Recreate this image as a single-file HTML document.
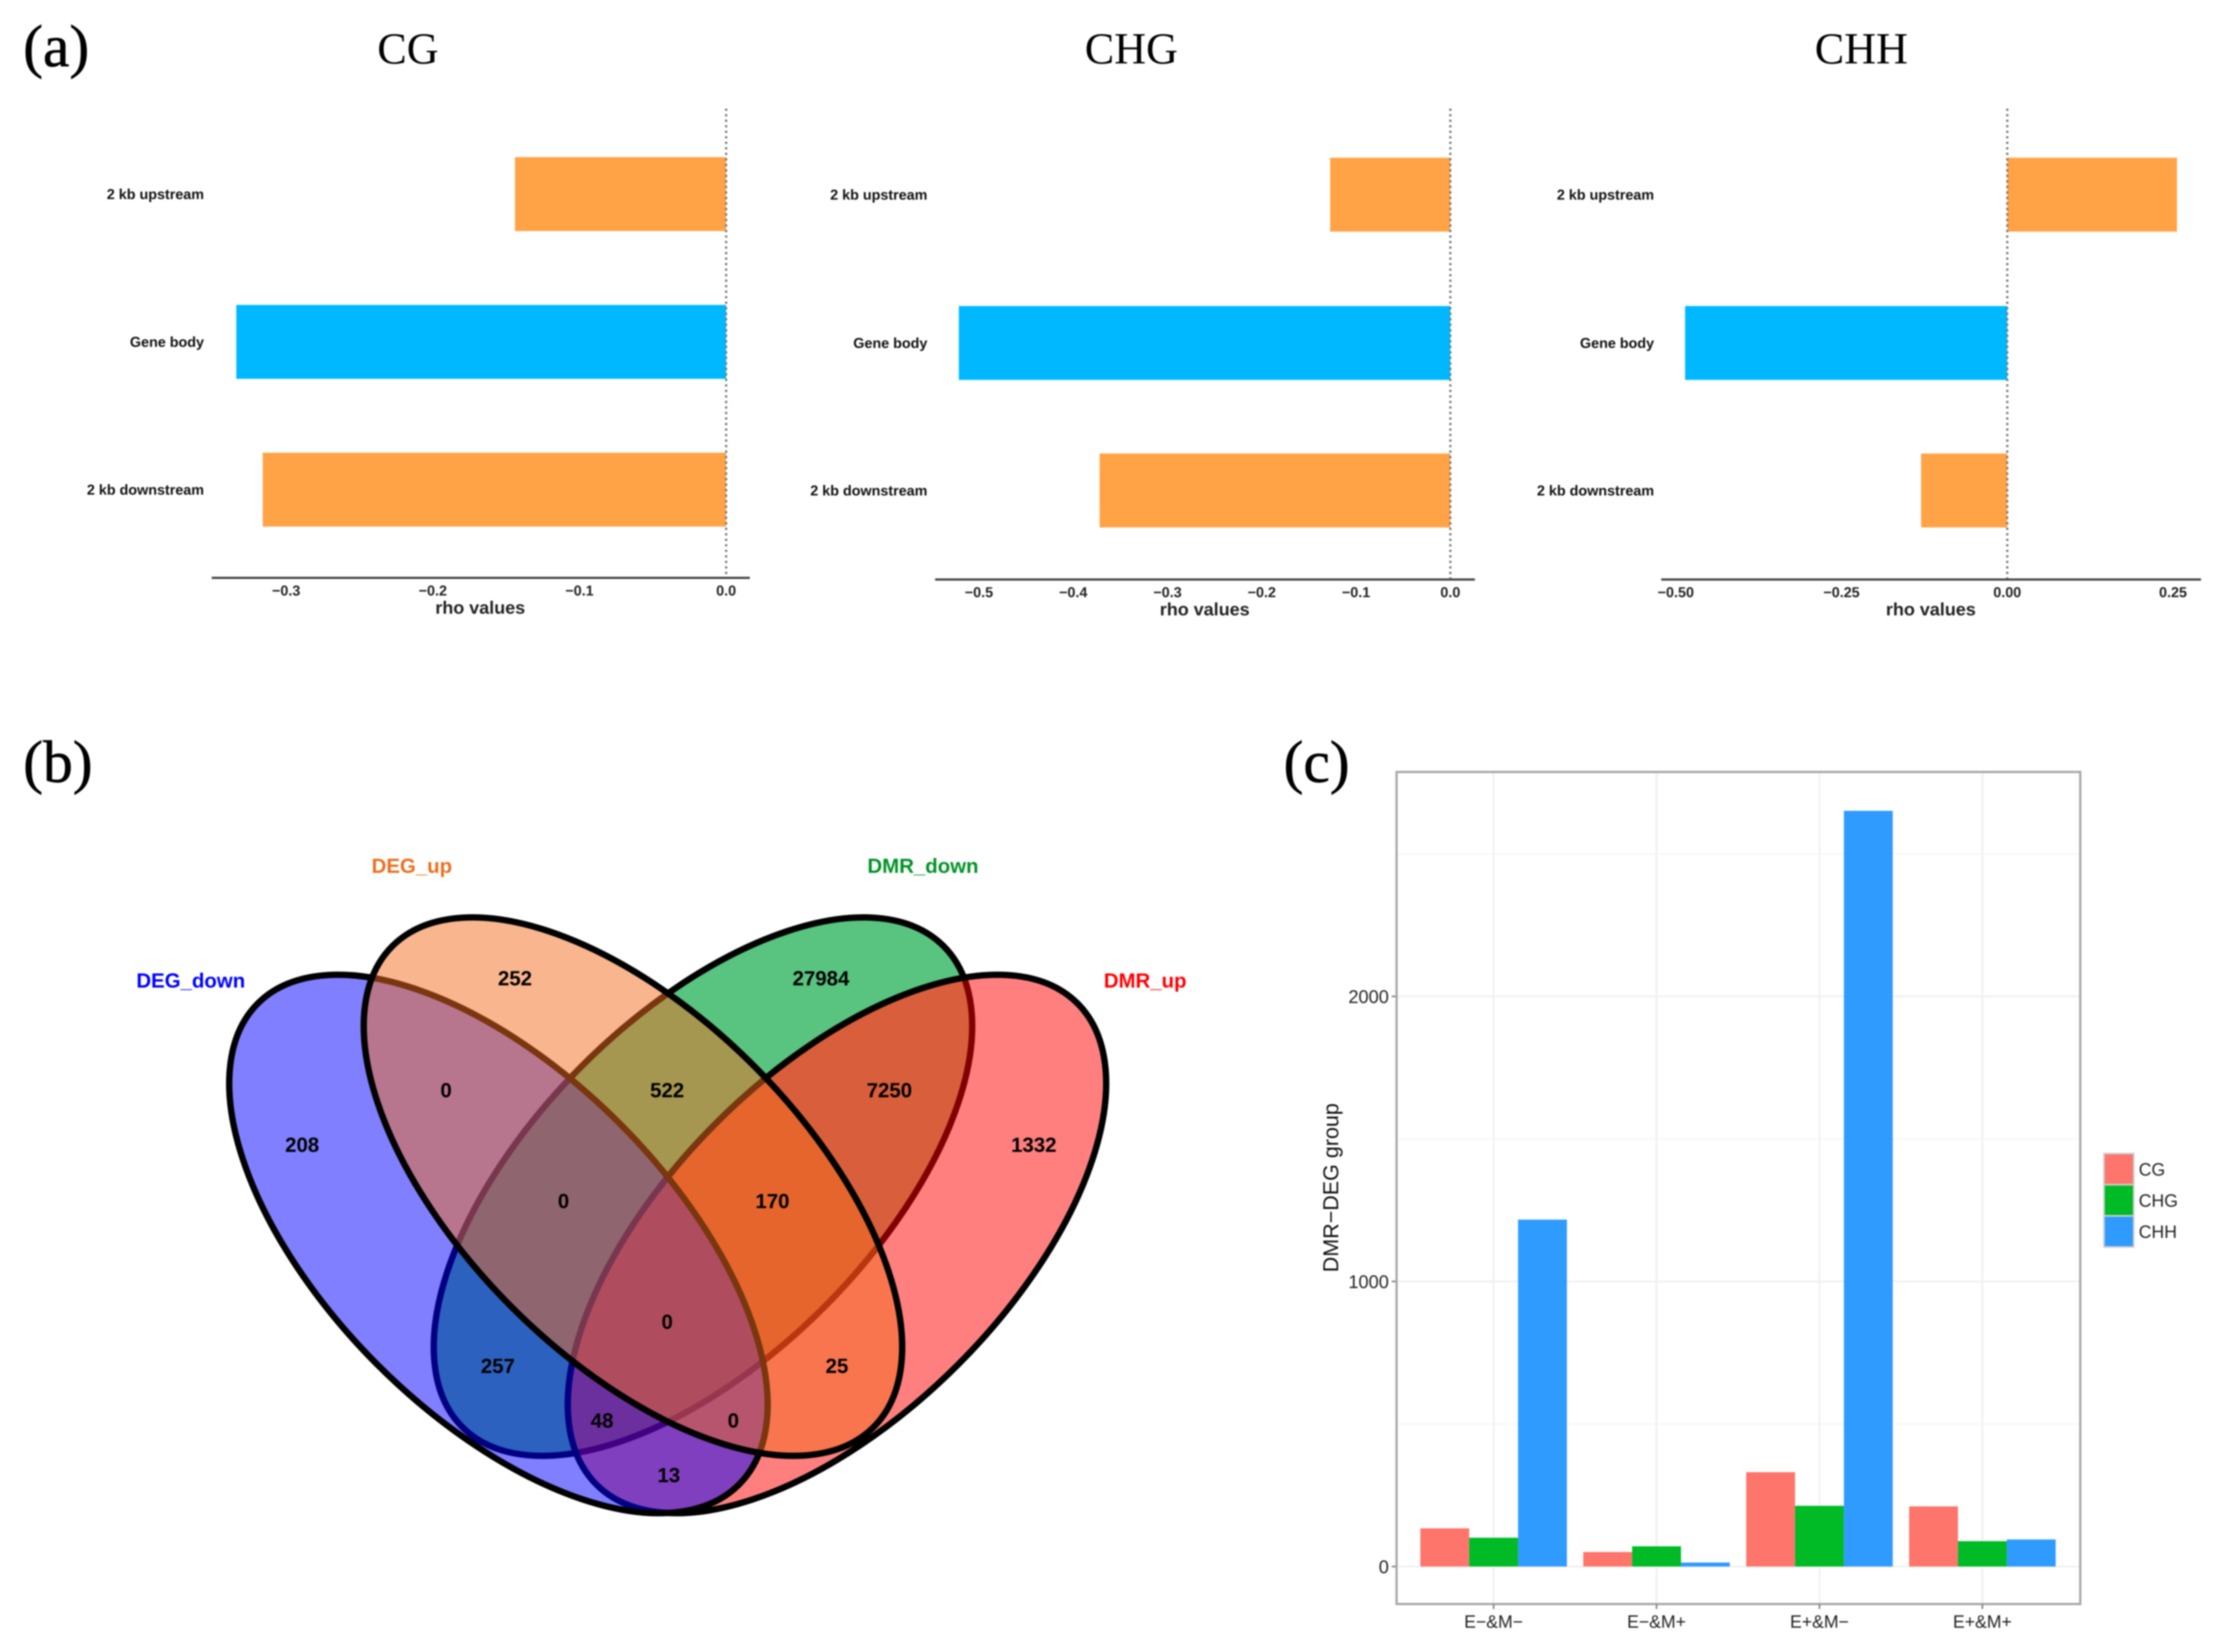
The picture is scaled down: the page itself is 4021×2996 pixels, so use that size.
<!DOCTYPE html>
<html lang="en">
<head>
<meta charset="utf-8">
<title>Methylation correlation, Venn diagram and DMR-DEG group chart</title>
<style>
  html, body { margin: 0; padding: 0; background: #fff; width: 4021px; height: 2996px; overflow: hidden; }
  svg { display: block; filter: blur(1.3px); }
  .serif { font-family: "Liberation Serif", serif; fill: #000; }
  .sans { font-family: "Liberation Sans", sans-serif; }
  .bold { font-weight: bold; }
</style>
</head>
<body>
<svg id="figure" xmlns="http://www.w3.org/2000/svg" width="4021" height="2996" viewBox="0 0 4021 2996">
  <defs>
    <clipPath id="green-inner-clip">
      <ellipse cx="1275" cy="2152" rx="611" ry="304" transform="rotate(-45 1275 2152)"/>
    </clipPath>
  </defs>
  <rect x="0" y="0" width="4021" height="2996" fill="#fff"/>

  <text class="serif" x="42" y="120" font-size="108" stroke="#000" stroke-width="1">(a)</text>
  <text class="serif" x="42" y="1418" font-size="108" stroke="#000" stroke-width="1">(b)</text>
  <text class="serif" x="2328" y="1418" font-size="108" stroke="#000" stroke-width="1">(c)</text>

  <text class="serif" x="740" y="115" font-size="80" text-anchor="middle">CG</text>
  <text class="serif" x="2052" y="115" font-size="80" text-anchor="middle">CHG</text>
  <text class="serif" x="3376" y="115" font-size="80" text-anchor="middle">CHH</text>

  <g id="panel-a"></g>

  <g id="venn">
    <!-- draw order green, red, blue, orange reproduces the tinted outlines -->
    <ellipse cx="1275" cy="2152" rx="617" ry="310" transform="rotate(-45 1275 2152)" fill="#00A33C" fill-opacity="0.65" stroke="none"/>
    <ellipse cx="1275" cy="2152" rx="617" ry="310" transform="rotate(-45 1275 2152)" fill="none" stroke="#000" stroke-width="11.5"/>
    <ellipse cx="1518" cy="2256" rx="617" ry="310" transform="rotate(-45 1518 2256)" fill="#FF0000" fill-opacity="0.5"/>
    <g clip-path="url(#green-inner-clip)">
      <ellipse cx="1518" cy="2256" rx="617" ry="310" transform="rotate(-45 1518 2256)" fill="#FF5C39" fill-opacity="0.55"/>
    </g>
    <ellipse cx="1518" cy="2256" rx="617" ry="310" transform="rotate(-45 1518 2256)" fill="none" stroke="#000" stroke-width="11.5"/>
    <ellipse cx="904" cy="2256" rx="617" ry="310" transform="rotate(45 904 2256)" fill="#0000FF" fill-opacity="0.5" stroke="#000" stroke-width="11.5"/>
    <ellipse cx="1148" cy="2152" rx="617" ry="310" transform="rotate(45 1148 2152)" fill="#F16B1D" fill-opacity="0.5" stroke="#000" stroke-width="11.5"/>

    <g class="sans bold" font-size="37" text-anchor="middle">
      <text x="346" y="1791" fill="#0000FF">DEG_down</text>
      <text x="747" y="1583" fill="#EB6F1E">DEG_up</text>
      <text x="1674" y="1583" fill="#009326">DMR_down</text>
      <text x="2077" y="1791" fill="#FF0000">DMR_up</text>
    </g>
    <g class="sans bold" font-size="37" text-anchor="middle" fill="#000">
      <text x="548" y="2089">208</text>
      <text x="934" y="1787">252</text>
      <text x="1489" y="1787">27984</text>
      <text x="1875" y="2089">1332</text>
      <text x="809" y="1990">0</text>
      <text x="1210" y="1990">522</text>
      <text x="1613" y="1990">7250</text>
      <text x="1022" y="2191">0</text>
      <text x="1401" y="2191">170</text>
      <text x="1210" y="2410">0</text>
      <text x="903" y="2490">257</text>
      <text x="1518" y="2490">25</text>
      <text x="1092" y="2589">48</text>
      <text x="1330" y="2589">0</text>
      <text x="1213" y="2688">13</text>
    </g>
  </g>

  <g id="panel-c"></g>
</svg>

<script>
// Panel (a) data
const regionCategories = ['2 kb upstream', 'Gene body', '2 kb downstream'];
const cgRho = [-0.144, -0.334, -0.316];
const chgRho = [-0.1275, -0.5213, -0.372];
const chhRho = [0.256, -0.486, -0.130];
const cgTicks = [-0.3, -0.2, -0.1, 0.0];
const cgTickLabels = ['\u22120.3', '\u22120.2', '\u22120.1', '0.0'];
const chgTicks = [-0.5, -0.4, -0.3, -0.2, -0.1, 0.0];
const chgTickLabels = ['\u22120.5', '\u22120.4', '\u22120.3', '\u22120.2', '\u22120.1', '0.0'];
const chhTicks = [-0.5, -0.25, 0.0, 0.25];
const chhTickLabels = ['\u22120.50', '\u22120.25', '0.00', '0.25'];

// Panel (c) data
const groupCategories = ['E\u2212&M\u2212', 'E\u2212&M+', 'E+&M\u2212', 'E+&M+'];
const cgCounts = [134, 51, 331, 211];
const chgCounts = [101, 71, 213, 89];
const chhCounts = [1217, 14, 2651, 95];
const countTicks = [0, 1000, 2000];
const countMinorTicks = [500, 1500, 2500];
const contextNames = ['CG', 'CHG', 'CHH'];

const NS = 'http://www.w3.org/2000/svg';
function make(parent, tag, attrs, text) {
  const el = document.createElementNS(NS, tag);
  for (const k in attrs) el.setAttribute(k, attrs[k]);
  if (text !== undefined) el.textContent = text;
  parent.appendChild(el);
  return el;
}

function drawRhoPanel(id, values, ticks, tickLabels, frame) {
  const root = document.getElementById('panel-a');
  const g = make(root, 'g', {});
  
  
  const xScale = v => frame.zero + v * frame.perUnit;
  const barColors = ['#FFA346', '#00B8FF', '#FFA346'];
  values.forEach((v, i) => {
    const top = frame.barTops[i];
    const bar = make(g, 'rect', {
      x: Math.min(xScale(0), xScale(v)),
      y: top,
      width: Math.abs(xScale(v) - xScale(0)),
      height: frame.barHeight,
      fill: barColors[i]
    });
    
    
    const label = make(g, 'text', {
      x: frame.labelRight, y: top + frame.barHeight / 2 + 9,
      'text-anchor': 'end', 'font-size': 26, fill: '#111',
      'class': 'sans bold'
    }, regionCategories[i]);
    
    
  });
  const zeroLine = make(g, 'line', {
    x1: xScale(0), x2: xScale(0), y1: 197, y2: frame.axisY,
    stroke: '#777', 'stroke-width': 4, 'stroke-dasharray': '4 6'
  });
  
  
  const axis = make(g, 'line', {
    x1: frame.axisLeft, x2: frame.axisRight, y1: frame.axisY, y2: frame.axisY,
    stroke: '#444', 'stroke-width': 4
  });
  
  
  ticks.forEach((t, i) => {
    const tick = make(g, 'text', {
      x: xScale(t), y: frame.axisY + 32, 'text-anchor': 'middle',
      'font-size': 26, fill: '#222', 'class': 'sans bold'
    }, tickLabels[i]);
    
    
  });
  const title = make(g, 'text', {
    x: frame.titleX, y: frame.axisY + 65, 'text-anchor': 'middle',
    'font-size': 32.6, fill: '#222', 'class': 'sans bold'
  }, 'rho values');
  
  
}

drawRhoPanel('cg', cgRho, cgTicks, cgTickLabels, {
  zero: 1317, perUnit: 2660, barTops: [285, 553, 821], barHeight: 134,
  axisLeft: 384, axisRight: 1360, axisY: 1048, labelRight: 370, titleX: 871
});
drawRhoPanel('chg', chgRho, chgTicks, chgTickLabels, {
  zero: 2630.5, perUnit: 1710, barTops: [286, 555, 822.5], barHeight: 134,
  axisLeft: 1696, axisRight: 2675, axisY: 1051, labelRight: 1682, titleX: 2185
});
drawRhoPanel('chh', chhRho, chhTicks, chhTickLabels, {
  zero: 3640.6, perUnit: 1202.4, barTops: [286, 555, 822.5], barHeight: 134,
  axisLeft: 3013, axisRight: 3992, axisY: 1051, labelRight: 3000, titleX: 3502
});

// Panel (c)
(function () {
  const root = document.getElementById('panel-c');
  const left = 2533, right = 3773, top = 1400, bottom = 2909;
  const y0 = 2841, perCount = 0.517;
  const firstGroup = 2709, groupStep = 295.5, barWidth = 88.6;
  const colors = ['#FE756C', '#00BB25', '#2F9BFF'];
  const series = [cgCounts, chgCounts, chhCounts];
  const yScale = v => y0 - v * perCount;
  const xScale = i => firstGroup + i * groupStep;

  countMinorTicks.forEach(t => {
    const line = make(root, 'line', { x1: left, x2: right, y1: yScale(t), y2: yScale(t), stroke: '#F5F5F5', 'stroke-width': 2 });
    
    
  });
  countTicks.forEach(t => {
    const line = make(root, 'line', { x1: left, x2: right, y1: yScale(t), y2: yScale(t), stroke: '#F1F1F1', 'stroke-width': 3.5 });
    
    
    const tick = make(root, 'line', { x1: left - 9, x2: left, y1: yScale(t), y2: yScale(t), stroke: '#888', 'stroke-width': 3 });
    
    
    const label = make(root, 'text', { x: left - 14, y: yScale(t) + 12, 'text-anchor': 'end', 'font-size': 33, fill: '#222', 'class': 'sans' }, String(t));
    
    
  });
  groupCategories.forEach((name, i) => {
    const line = make(root, 'line', { x1: xScale(i), x2: xScale(i), y1: top, y2: bottom, stroke: '#F1F1F1', 'stroke-width': 3.5 });
    
    
  });
  series.forEach((values, s) => {
    values.forEach((v, i) => {
      const bar = make(root, 'rect', {
        x: xScale(i) + (s - 1.5) * barWidth,
        y: yScale(v),
        width: barWidth,
        height: yScale(0) - yScale(v),
        fill: colors[s]
      });
      
      
    });
  });
  const frame = make(root, 'rect', { x: left, y: top, width: right - left, height: bottom - top, fill: 'none', stroke: '#A6A6A6', 'stroke-width': 4 });
  
  
  groupCategories.forEach((name, i) => {
    const tick = make(root, 'line', { x1: xScale(i), x2: xScale(i), y1: bottom, y2: bottom + 9, stroke: '#888', 'stroke-width': 3 });
    
    
    const label = make(root, 'text', { x: xScale(i), y: bottom + 43, 'text-anchor': 'middle', 'font-size': 32, fill: '#222', 'class': 'sans' }, name);
    
    
  });
  const yTitle = make(root, 'text', {
    x: 0, y: 0, transform: 'translate(2427 2154) rotate(-90)', 'text-anchor': 'middle',
    'font-size': 39, fill: '#111', 'class': 'sans'
  }, 'DMR\u2212DEG group');
  
  

  contextNames.forEach((name, s) => {
    const keyTop = 2092 + s * 56.5;
    const key = make(root, 'rect', { x: 3816, y: keyTop, width: 54, height: 56.5, fill: colors[s], stroke: '#CFCFCF', 'stroke-width': 3 });
    
    
    const label = make(root, 'text', { x: 3879, y: keyTop + 40, 'font-size': 32, fill: '#222', 'class': 'sans' }, name);
    
    
  });
})();
</script>
</body>
</html>
